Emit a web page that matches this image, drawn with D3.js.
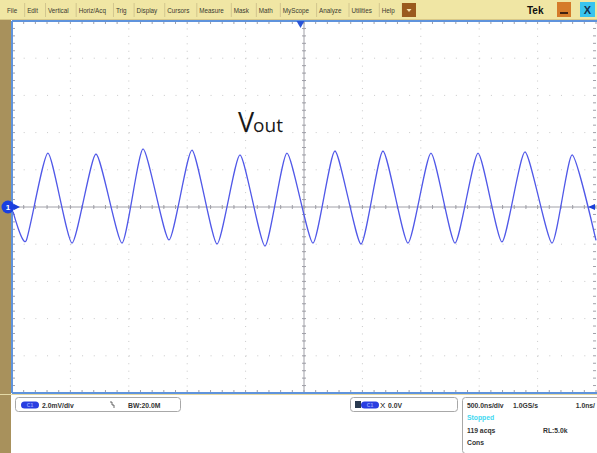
<!DOCTYPE html>
<html>
<head>
<meta charset="utf-8">
<script src="https://cdn.jsdelivr.net/npm/d3@7"></script>
<style>
  html, body { margin: 0; padding: 0; background: #fff; }
  svg { display: block; font-family: "Liberation Sans", Arial, sans-serif; }
</style>
</head>
<body>
<div id="scope"></div>
<script>
// menu items across the top bar
const menuItems = ["File", "Edit", "Vertical", "Horiz/Acq", "Trig", "Display", "Cursors",
  "Measure", "Mask", "Math", "MyScope", "Analyze", "Utilities", "Help"];

// trace vertices: time (ns, 0 = centre) and voltage (mV)
const traceTime = [-2491, -2380, -2192, -1986, -1781, -1558, -1378, -1156, -959, -745, -548, -334,
  -146, 77, 265, 488, 676, 890, 1087, 1293, 1490, 1695, 1892, 2123, 2295, 2500];
const traceVolt = [-0.25, -1.83, 2.90, -1.94, 2.85, -1.94, 3.12, -1.77, 3.06, -1.99, 2.80, -2.10,
  2.90, -1.94, 3.01, -1.99, 3.01, -1.94, 2.90, -1.94, 2.90, -1.88, 2.96, -1.94, 2.80, -1.80];

// scope settings
const timeDomain = [-2500, 2500];   // 500 ns/div x 10
const voltDomain = [-10, 10];       // 2 mV/div x 10
const triggerTime = -30;
const chanText = ["2.0mV/div", "BW:20.0M"];
const trigText = "0.0V";
const horizText = ["500.0ns/div", "1.0GS/s", "1.0ns/", "Stopped", "119 acqs", "RL:5.0k", "Cons"];

const W = 597, H = 453;
const plot = {left: 12, right: 596, top: 21, bottom: 393};

const svg = d3.select("#scope").append("svg")
  .attr("width", W)
  .attr("height", H);

const x = d3.scaleLinear().domain(timeDomain).range([plot.left, plot.right]);
const y = d3.scaleLinear().domain(voltDomain).range([plot.bottom, plot.top]);

/** background pieces */
svg.append("rect").attr("width", W).attr("height", H).attr("fill", "#fff");
svg.append("rect").attr("x", 0).attr("y", 19).attr("width", 11).attr("height", H - 19).attr("fill", "#a8915c");

/** menu bar */
const menu = svg.append("g").attr("id", "menu");
menu.append("rect").attr("width", W).attr("height", 20).attr("fill", "#f0e6a4");
menu.append("line").attr("x1", 0).attr("x2", W).attr("y1", 19.5).attr("y2", 19.5)
  .attr("stroke", "#d8c888");

let mx = 4;
menuItems.forEach(function(m) {
  const t = menu.append("text")
    .attr("x", mx + 3)
    .attr("y", 13)
    .attr("font-size", 6.3)
    .attr("fill", "#3a3a30")
    .text(m);
  const w = t.node().getComputedTextLength();
  mx += w + 10;
  menu.append("line")
    .attr("x1", mx + 0.5).attr("x2", mx + 0.5)
    .attr("y1", 3).attr("y2", 17)
    .attr("stroke", "#d2c68e");
});

// dropdown button
menu.append("rect").attr("x", 402).attr("y", 3).attr("width", 14).attr("height", 14)
  .attr("fill", "#9a5a1e");
menu.append("path").attr("d", "M406.5,9 L411.5,9 L409,12 Z").attr("fill", "#f4e0b0");
menu.append("text").attr("x", 527).attr("y", 14).attr("font-size", 10).attr("font-weight", "bold")
  .attr("fill", "#111").text("Tek");
menu.append("rect").attr("x", 557).attr("y", 2).attr("width", 14).attr("height", 15)
  .attr("fill", "#d57b2a");
menu.append("line").attr("x1", 560).attr("x2", 568).attr("y1", 13).attr("y2", 13)
  .attr("stroke", "#402010").attr("stroke-width", 2);
menu.append("rect").attr("x", 580).attr("y", 2).attr("width", 15).attr("height", 15)
  .attr("fill", "#38c4ee");
menu.append("text").attr("x", 587.5).attr("y", 14).attr("font-size", 11).attr("font-weight", "bold")
  .attr("text-anchor", "middle").attr("fill", "#103050").text("X");

/** graticule */
const grid = svg.append("g").attr("id", "graticule");
const majorX = d3.range(-2500, 2501, 500);
const majorY = d3.range(-10, 10.01, 2);
const minorX = d3.range(-2500, 2501, 100);
const minorY = d3.range(-10, 10.01, 0.4);

// dotted division lines
grid.selectAll("line.vgrid").data(majorX.slice(1, -1)).enter().append("line")
  .attr("class", "vgrid")
  .attr("x1", d => x(d)).attr("x2", d => x(d))
  .attr("y1", plot.top).attr("y2", plot.bottom)
  .attr("stroke", "#c8c8c8").attr("stroke-width", 1)
  .attr("stroke-dasharray", "1,6.44");
grid.selectAll("line.hgrid").data(majorY.slice(1, -1)).enter().append("line")
  .attr("class", "hgrid")
  .attr("x1", plot.left).attr("x2", plot.right)
  .attr("y1", d => y(d)).attr("y2", d => y(d))
  .attr("stroke", "#c8c8c8").attr("stroke-width", 1)
  .attr("stroke-dasharray", "1,10.68");

// centre axes
grid.append("line").attr("x1", plot.left).attr("x2", plot.right)
  .attr("y1", y(0)).attr("y2", y(0)).attr("stroke", "#a0a0a8");
grid.append("line").attr("x1", x(0)).attr("x2", x(0))
  .attr("y1", plot.top).attr("y2", plot.bottom).attr("stroke", "#a0a0a8");

// minor ticks on centre axes
grid.selectAll("line.cxt").data(minorX).enter().append("line")
  .attr("x1", d => x(d)).attr("x2", d => x(d))
  .attr("y1", y(0) - 2).attr("y2", y(0) + 2)
  .attr("stroke", "#a0a0a8");
grid.selectAll("line.cyt").data(minorY).enter().append("line")
  .attr("x1", x(0) - 2).attr("x2", x(0) + 2)
  .attr("y1", d => y(d)).attr("y2", d => y(d))
  .attr("stroke", "#a0a0a8");

// edge ticks
grid.selectAll("line.topt").data(minorX).enter().append("line")
  .attr("x1", d => x(d)).attr("x2", d => x(d))
  .attr("y1", plot.top).attr("y2", plot.top + 3)
  .attr("stroke", "#a0a0a8");
grid.selectAll("line.bott").data(minorX).enter().append("line")
  .attr("x1", d => x(d)).attr("x2", d => x(d))
  .attr("y1", plot.bottom).attr("y2", plot.bottom - 3)
  .attr("stroke", "#a0a0a8");
grid.selectAll("line.leftt").data(minorY).enter().append("line")
  .attr("x1", plot.left).attr("x2", plot.left + 3)
  .attr("y1", d => y(d)).attr("y2", d => y(d))
  .attr("stroke", "#a0a0a8");
grid.selectAll("line.rightt").data(minorY).enter().append("line")
  .attr("x1", plot.right).attr("x2", plot.right - 3)
  .attr("y1", d => y(d)).attr("y2", d => y(d))
  .attr("stroke", "#a0a0a8");

// frame
grid.append("line").attr("x1", plot.left).attr("x2", W).attr("y1", plot.top).attr("y2", plot.top)
  .attr("stroke", "#5f93dc").attr("stroke-width", 2);
grid.append("line").attr("x1", plot.left).attr("x2", W).attr("y1", plot.bottom).attr("y2", plot.bottom)
  .attr("stroke", "#5f93dc").attr("stroke-width", 2);
grid.append("line").attr("x1", 0).attr("x2", W).attr("y1", plot.bottom + 1.5).attr("y2", plot.bottom + 1.5)
  .attr("stroke", "#e4d9a6").attr("stroke-width", 1);
grid.append("line").attr("x1", plot.left).attr("x2", plot.left).attr("y1", plot.top).attr("y2", plot.bottom)
  .attr("stroke", "#5f93dc").attr("stroke-width", 2);

/** waveform */
const traceData = traceTime.map((t, i) => ({t: t, v: traceVolt[i]}));
const line = d3.line()
  .x(d => x(d.t))
  .y(d => y(d.v))
  .curve(d3.curveCardinal.tension(0.4));

svg.append("path")
  .datum(traceData)
  .attr("fill", "none")
  .attr("stroke", "#5058e8")
  .attr("stroke-width", 1.3)
  .attr("stroke-linejoin", "round")
  .attr("d", line);

/** markers */
svg.append("path")
  .attr("d", `M${x(triggerTime) - 4},${plot.top} L${x(triggerTime) + 4},${plot.top} L${x(triggerTime)},${plot.top + 7} Z`)
  .attr("fill", "#2a55d8");
svg.append("path")
  .attr("d", `M14,${y(0) - 3} L20,${y(0)} L14,${y(0) + 3} Z`)
  .attr("fill", "#1a3fd8");
svg.append("circle").attr("cx", 8).attr("cy", y(0)).attr("r", 6.5).attr("fill", "#1a3fe0");
svg.append("text").attr("x", 8).attr("y", y(0) + 3).attr("text-anchor", "middle")
  .attr("font-size", 8).attr("font-weight", "bold").attr("fill", "#fff").text("1");
svg.append("path")
  .attr("d", `M${plot.right - 1},${y(0) - 3} L${plot.right - 8},${y(0)} L${plot.right - 1},${y(0) + 3} Z`)
  .attr("fill", "#1a3fd8");

/** V_out label */
const lbl = svg.append("text").attr("x", 238).attr("y", 132).attr("fill", "#1a1a1a")
  .attr("font-family", "'Open Sans', sans-serif");
lbl.append("tspan").attr("font-size", 27).text("V");
lbl.append("tspan").attr("font-size", 19).attr("dx", -1).text("out");

/** readout boxes */
const info = svg.append("g").attr("id", "readouts").attr("font-size", 6.8).attr("fill", "#333")
  .attr("font-weight", "bold");

function box(x0, y0, w, h) {
  info.append("rect").attr("x", x0).attr("y", y0).attr("width", w).attr("height", h)
    .attr("rx", 3).attr("fill", "#fff").attr("stroke", "#a8a8a8").attr("stroke-width", 1);
}
function pill(cx, cy) {
  info.append("rect").attr("x", cx - 9).attr("y", cy - 3.5).attr("width", 18).attr("height", 7)
    .attr("rx", 3.5).attr("fill", "#2a3ee0");
  info.append("text").attr("x", cx).attr("y", cy + 2).attr("text-anchor", "middle")
    .attr("font-size", 5).attr("fill", "#8fa0ff").text("C1");
}

// channel box
box(15.5, 397.5, 165, 14);
pill(30, 405);
info.append("text").attr("x", 42).attr("y", 407.5).text(chanText[0]);
info.append("path").attr("d", "M110,402 L112,402 L112,405 L114,405 L114,408")
  .attr("fill", "none").attr("stroke", "#444").attr("stroke-width", 0.8);
info.append("text").attr("x", 128).attr("y", 407.5).text(chanText[1]);

// trigger box
box(350.5, 397.5, 107, 14);
info.append("rect").attr("x", 355).attr("y", 401).attr("width", 6).attr("height", 7).attr("fill", "#2a3a50");
pill(370, 405);
info.append("text").attr("x", 380).attr("y", 408).attr("font-size", 8).attr("font-weight", "normal")
  .attr("fill", "#111").text("Χ");
info.append("text").attr("x", 388).attr("y", 407.5).text(trigText);

// horizontal box
box(462.5, 397.5, 140, 56);
info.append("text").attr("x", 467).attr("y", 407.5).text(horizText[0]);
info.append("text").attr("x", 513).attr("y", 407.5).text(horizText[1]);
info.append("text").attr("x", 595).attr("y", 407.5).attr("text-anchor", "end").text(horizText[2]);
info.append("text").attr("x", 467).attr("y", 420).attr("fill", "#3fd8f0").text(horizText[3]);
info.append("text").attr("x", 467).attr("y", 433).text(horizText[4]);
info.append("text").attr("x", 543).attr("y", 433).text(horizText[5]);
info.append("text").attr("x", 467).attr("y", 445).text(horizText[6]);
</script>
</body>
</html>
